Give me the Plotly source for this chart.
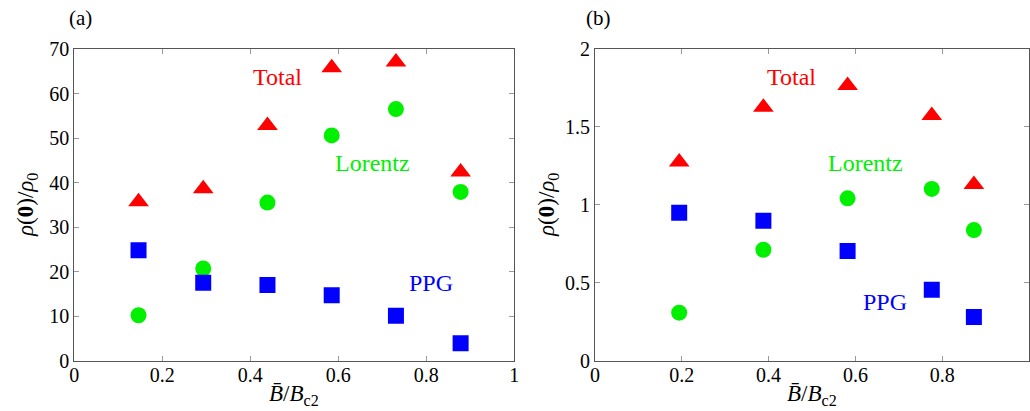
import plotly.graph_objects as go

# Panel (a)
xa = [0.146, 0.293, 0.439, 0.585, 0.731, 0.878]
total_a = [35.7, 38.6, 52.8, 65.8, 67.1, 42.4]
lorentz_a = [10.2, 20.7, 35.5, 50.6, 56.5, 37.9]
ppg_a = [24.8, 17.5, 17.0, 14.7, 10.1, 3.9]

# Panel (b)
xb = [0.194, 0.388, 0.582, 0.776, 0.873]
total_b = [1.275, 1.626, 1.765, 1.574, 1.131]
lorentz_b = [0.308, 0.712, 1.042, 1.102, 0.838]
ppg_b = [0.950, 0.898, 0.704, 0.456, 0.280]

RED, GREEN, BLUE = "#ff0000", "#00f000", "#0000ff"
FONT = "Liberation Serif"

fig = go.Figure()

def add_panel(x, tot, lor, ppg, xaxis, yaxis):
    fig.add_trace(go.Scatter(x=x, y=tot, mode="markers", xaxis=xaxis, yaxis=yaxis,
                             marker=dict(symbol="triangle-up", size=18, color=RED), showlegend=False))
    fig.add_trace(go.Scatter(x=x, y=lor, mode="markers", xaxis=xaxis, yaxis=yaxis,
                             marker=dict(symbol="circle", size=16, color=GREEN), showlegend=False))
    fig.add_trace(go.Scatter(x=x, y=ppg, mode="markers", xaxis=xaxis, yaxis=yaxis,
                             marker=dict(symbol="square", size=16, color=BLUE), showlegend=False))

add_panel(xa, total_a, lorentz_a, ppg_a, "x", "y")
add_panel(xb, total_b, lorentz_b, ppg_b, "x2", "y2")

axis_common = dict(showline=True, linecolor="#555555", linewidth=1, mirror="ticks",
                   ticks="inside", ticklen=5, tickcolor="#999999", showgrid=False, zeroline=False,
                   automargin=False,
                   tickfont=dict(family=FONT, size=20, color="black"))

ydom = [1 - 360.7 / 411, 1 - 49 / 411]
fig.update_layout(
    width=1030, height=411,
    margin=dict(l=0, r=0, t=0, b=0, pad=0, autoexpand=False),
    paper_bgcolor="white", plot_bgcolor="white",
    font=dict(family=FONT, color="black"),
    xaxis=dict(domain=[74.3 / 1030, 514.3 / 1030], range=[0, 1], dtick=0.2, anchor="y",
               ticklabelstandoff=-4, **axis_common),
    yaxis=dict(domain=ydom, range=[0, 70], dtick=10, anchor="x", **axis_common),
    xaxis2=dict(domain=[595 / 1030, 1029 / 1030], range=[0, 1], dtick=0.2, anchor="y2",
                ticklabelstandoff=-4, **axis_common),
    yaxis2=dict(domain=ydom, range=[0, 2], dtick=0.5, anchor="x2", **axis_common),
)

ann = []
def txt(x, y, s, color, xref="paper", yref="paper", size=21, **kw):
    ann.append(dict(x=x, y=y, xref=xref, yref=yref, text=s, showarrow=False,
                    xanchor="center", yanchor="middle",
                    font=dict(family=FONT, size=size, color=color), **kw))

# series labels
txt(0.461, 63.8, "Total", RED, "x", "y", size=24)
txt(0.677, 44.3, "Lorentz", GREEN, "x", "y", size=24)
txt(0.81, 17.4, "PPG", BLUE, "x", "y", size=24)
txt(0.453, 1.822, "Total", RED, "x2", "y2", size=24)
txt(0.624, 1.266, "Lorentz", GREEN, "x2", "y2", size=24)
txt(0.668, 0.379, "PPG", BLUE, "x2", "y2", size=24)

# panel labels
txt(80 / 1030, 1 - 18 / 411, "(a)", "black", size=21)
txt(598 / 1030, 1 - 18 / 411, "(b)", "black", size=21)

# axis titles
xt = "<i>B\u0304</i>/<i>B</i><sub>c2</sub>"
yt = "<i>\u03c1</i>(<b>0</b>)/<i>\u03c1</i><sub>0</sub>"
txt(294 / 1030, 1 - 395 / 411, xt, "black", size=23)
txt(812 / 1030, 1 - 395 / 411, xt, "black", size=23)
txt(27 / 1030, 1 - 205 / 411, yt, "black", size=23, textangle=-90)
txt(548 / 1030, 1 - 205 / 411, yt, "black", size=23, textangle=-90)

fig.update_layout(annotations=ann)
fig.write_html("out.html", config={"displayModeBar": False},
               post_script="document.body.style.margin='0px';")
